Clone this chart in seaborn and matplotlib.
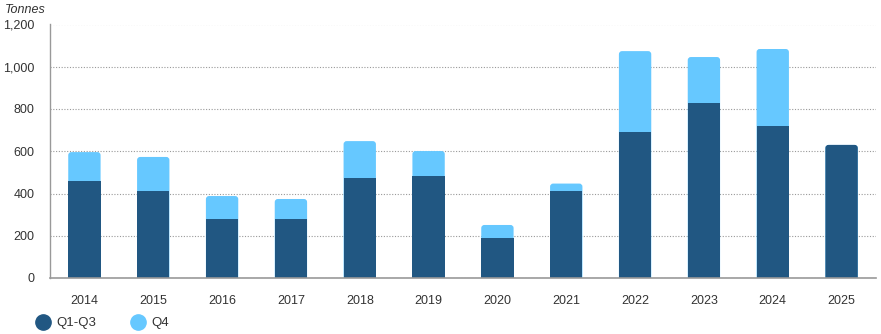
import matplotlib
matplotlib.use("Agg")
import matplotlib.pyplot as plt
import seaborn as sns
import pandas as pd
from matplotlib.lines import Line2D
from matplotlib.patches import FancyBboxPatch

years = ["2014", "2015", "2016", "2017", "2018", "2019", "2020", "2021", "2022", "2023", "2024", "2025"]
q1_q3 = [459, 412, 279, 279, 473, 483, 191, 412, 691, 828, 719, 630]
q4 = [137, 161, 109, 95, 175, 118, 60, 35, 383, 218, 365, 0]
yticks = [0, 200, 400, 600, 800, 1000, 1200]

dark = "#215782"
light = "#66c8ff"

df = pd.DataFrame({"year": years, "q1_q3": q1_q3, "q4": q4})
df["total"] = df["q1_q3"] + df["q4"]

sns.set_theme(style="white")
plt.rcParams["font.family"] = ["Liberation Sans", "DejaVu Sans"]

fig = plt.figure(figsize=(8.81, 3.34), dpi=100)
ax = fig.add_axes([50 / 881, 1 - 278 / 334, (876 - 50) / 881, (278 - 24.5) / 334])

sns.barplot(data=df, x="year", y="total", color=light, width=0.47, ax=ax,
            saturation=1, zorder=3, linewidth=0)
n_light = len(ax.patches)
sns.barplot(data=df, x="year", y="q1_q3", color=dark, width=0.47, ax=ax,
            saturation=1, zorder=4, linewidth=0)

ax.set_xlim(-0.5, 11.5)
ax.set_ylim(0, 1200)

# round top corners of the visible top segments
r_x = 0.045
aspect = (1200 / 253.5) / (1 / 69.0)
patches = list(ax.patches)
for i, p in enumerate(patches):
    is_light = i < n_light
    idx = i if is_light else i - n_light
    if not is_light and q4[idx] > 0:
        continue
    x, y0 = p.get_x(), p.get_y()
    w, h = p.get_width(), p.get_height()
    if h <= 0:
        continue
    fb = FancyBboxPatch((x, y0 - 40), w, h + 40,
                        boxstyle=f"round,pad=0,rounding_size={r_x}",
                        mutation_aspect=aspect, facecolor=p.get_facecolor(),
                        edgecolor="none", linewidth=0, zorder=p.get_zorder())
    p.set_visible(False)
    ax.add_patch(fb)

ax.set_yticks(yticks)
ax.set_yticklabels([f"{v:,}" for v in yticks])
ax.set_xlabel("")
ax.set_ylabel("")
ax.grid(axis="y", color="#999999", linestyle=(0, (1, 1.5)), linewidth=0.8, zorder=0)
ax.grid(axis="x", visible=False)
for s in ["top", "right"]:
    ax.spines[s].set_visible(False)
ax.spines["left"].set_color("#999999")
ax.spines["bottom"].set_color("#999999")
ax.spines["left"].set_linewidth(1)
ax.spines["bottom"].set_linewidth(1.2)
ax.spines["bottom"].set_zorder(5)
ax.tick_params(axis="both", length=0, labelsize=9, colors="#333333")
ax.tick_params(axis="x", pad=12)
ax.tick_params(axis="y", pad=11)

fig.text(5 / 881, 1 - 10 / 334, "Tonnes", fontsize=9, style="italic",
         color="#333333", va="center", ha="left")

handles = [Line2D([0], [0], marker="o", linestyle="", markersize=11,
                  markerfacecolor=dark, markeredgecolor=dark, label="Q1-Q3"),
           Line2D([0], [0], marker="o", linestyle="", markersize=11,
                  markerfacecolor=light, markeredgecolor=light, label="Q4")]
leg = fig.legend(handles=handles, loc="center left", bbox_to_anchor=(30 / 881, 1 - 323 / 334),
                 ncol=2, frameon=False, fontsize=9.5, handletextpad=0.4,
                 columnspacing=2.6, handlelength=1.2, borderaxespad=0)
for t in leg.get_texts():
    t.set_color("#333333")

fig.savefig("out.png", dpi=100)
